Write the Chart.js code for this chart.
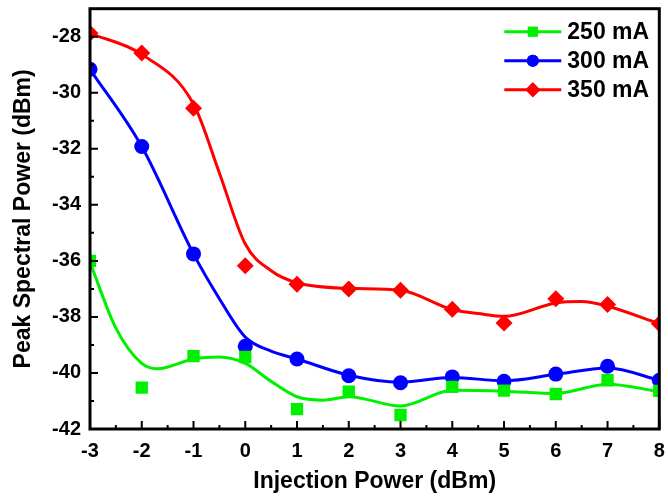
<!DOCTYPE html>
<html>
<head>
<meta charset="utf-8">
<script src="https://cdn.jsdelivr.net/npm/chart.js@4/dist/chart.umd.min.js"></script>
<style>
  html, body { margin: 0; padding: 0; background: #fff; }
  #wrap { width: 668px; height: 497px; }
</style>
</head>
<body>
<div id="wrap"><canvas id="powerChart"></canvas></div>
<script>
// injection power (dBm) and measured peak power (dBm) per bias current
const injection = [-3, -2, -1, 0, 1, 2, 3, 4, 5, 6, 7, 8];
const peak250 = [-36.0, -40.52, -39.4, -39.43, -41.29, -40.67, -41.5, -40.5, -40.63, -40.75, -40.26, -40.64];
const peak300 = [-29.16, -31.92, -35.75, -39.05, -39.5, -40.1, -40.35, -40.14, -40.3, -40.04, -39.76, -40.26];
const peak350 = [-27.88, -28.58, -30.55, -36.17, -36.83, -37.0, -37.05, -37.73, -38.22, -37.35, -37.56, -38.24];

// smoothed fit curves
const fitX250 = [-3, -2.5, -2, -1.7, -1, -0.5, 0, 0.5, 1, 1.5, 2, 3, 4, 5, 6, 7, 8];
const fit250 = [-36.05, -38.4, -39.66, -39.85, -39.5, -39.43, -39.66, -40.3, -40.85, -40.97, -40.85, -41.18, -40.62, -40.65, -40.73, -40.4, -40.67];
const fitX300 = [-3, -2, -1, -0.5, 0, 0.5, 1, 2, 3, 4, 5, 6, 7, 8];
const fit300 = [-29.16, -31.92, -35.75, -37.35, -38.72, -39.22, -39.5, -40.08, -40.33, -40.16, -40.28, -40.05, -39.82, -40.26];
const fitX350 = [-3, -2, -1, -0.5, 0, 0.5, 1, 2, 3, 4, 4.5, 5, 6, 6.5, 7, 8];
const fit350 = [-27.88, -28.63, -30.4, -32.86, -35.4, -36.35, -36.78, -36.98, -37.05, -37.74, -37.88, -37.98, -37.5, -37.45, -37.62, -38.24];

const seriesNames = ['250 mA', '300 mA', '350 mA'];
const xTicks = [-3, -2, -1, 0, 1, 2, 3, 4, 5, 6, 7, 8];
const xMinor = [-2.5, -1.5, -0.5, 0.5, 1.5, 2.5, 3.5, 4.5, 5.5, 6.5, 7.5];
const yTicks = [-42, -40, -38, -36, -34, -32, -30, -28];
const yMinor = [-41, -39, -37, -35, -33, -31, -29];

const FONT = "'Liberation Sans', Arial, sans-serif";
const colors = ['#00f000', '#0000ff', '#ff0000'];
const styles = [
  { pointStyle: 'rect', radius: 8.7, legendRadius: 7 },
  { pointStyle: 'circle', radius: 7.5, legendRadius: 6 },
  { pointStyle: 'rectRot', radius: 8.5, legendRadius: 7.5 }
];

const pairs = (xs, ys) => xs.map((x, i) => ({ x: x, y: ys[i] }));
const peaks = [peak250, peak300, peak350];
const fits = [[fitX250, fit250], [fitX300, fit300], [fitX350, fit350]];

const datasets = [];
seriesNames.forEach((name, i) => {
  datasets.push({
    label: name,
    data: pairs(injection, peaks[i]),
    showLine: false,
    pointStyle: styles[i].pointStyle,
    pointRadius: styles[i].radius,
    pointBackgroundColor: colors[i],
    pointBorderWidth: 0,
    pointBorderColor: colors[i],
    order: 0
  });
  datasets.push({
    label: name + ' fit',
    data: pairs(fits[i][0], fits[i][1]),
    showLine: true,
    borderColor: colors[i],
    borderWidth: 3,
    pointRadius: 0,
    cubicInterpolationMode: 'monotone',
    order: 1
  });
});

// frame, inward ticks and the legend
const framePlugin = {
  id: 'frame',
  afterDatasetsDraw(chart) {
    const ctx = chart.ctx;
    const a = chart.chartArea;
    const xs = chart.scales.x, ys = chart.scales.y;
    ctx.save();
    ctx.strokeStyle = '#000';
    ctx.lineWidth = 2;
    ctx.beginPath();
    xTicks.forEach(v => { const p = xs.getPixelForValue(v); ctx.moveTo(p, a.bottom); ctx.lineTo(p, a.bottom - 8); });
    xMinor.forEach(v => { const p = xs.getPixelForValue(v); ctx.moveTo(p, a.bottom); ctx.lineTo(p, a.bottom - 4); });
    yTicks.forEach(v => { const p = ys.getPixelForValue(v); ctx.moveTo(a.left, p); ctx.lineTo(a.left + 8, p); });
    yMinor.forEach(v => { const p = ys.getPixelForValue(v); ctx.moveTo(a.left, p); ctx.lineTo(a.left + 4, p); });
    ctx.stroke();
    ctx.lineWidth = 3;
    ctx.strokeRect(a.left, a.top, a.right - a.left, a.bottom - a.top);

    // legend: line with marker, then label
    ctx.font = 'bold 23px ' + FONT;
    ctx.textBaseline = 'middle';
    ctx.textAlign = 'left';
    seriesNames.forEach((name, i) => {
      const y = a.top + 23 + i * 29;
      const x0 = a.right - 155;
      ctx.strokeStyle = colors[i];
      ctx.lineWidth = 3;
      ctx.beginPath();
      ctx.moveTo(x0, y);
      ctx.lineTo(x0 + 57, y);
      ctx.stroke();
      ctx.fillStyle = colors[i];
      Chart.helpers.drawPoint(ctx, {
        pointStyle: styles[i].pointStyle,
        radius: styles[i].legendRadius,
        borderWidth: 0,
        rotation: 0
      }, x0 + 28.5, y);
      ctx.fill();
      ctx.fillStyle = '#000';
      ctx.fillText(name, x0 + 63, y + 1);
    });
    ctx.restore();
  }
};

new Chart(document.getElementById('powerChart'), {
  type: 'scatter',
  data: { datasets: datasets },
  options: {
    responsive: true,
    maintainAspectRatio: false,
    animation: false,
    layout: { padding: { top: 8, right: 5, left: 0, bottom: 0 } },
    plugins: {
      legend: { display: false },
      tooltip: { enabled: false }
    },
    scales: {
      x: {
        type: 'linear',
        min: -3,
        max: 8,
        afterBuildTicks: s => { s.ticks = xTicks.map(v => ({ value: v })); },
        afterFit: s => { s.height = 68; s.paddingLeft = 0; s.paddingRight = 0; },
        grid: { display: false, drawTicks: false },
        border: { display: false },
        ticks: {
          padding: 10,
          color: '#000',
          font: { family: FONT, size: 20, weight: 'bold' }
        },
        title: {
          display: true,
          text: 'Injection Power (dBm)',
          color: '#000',
          padding: { top: 0, bottom: 2 },
          font: { family: FONT, size: 23, weight: 'bold' }
        }
      },
      y: {
        type: 'linear',
        min: -42,
        max: -27,
        afterBuildTicks: s => { s.ticks = yTicks.map(v => ({ value: v })); },
        afterFit: s => { s.width = 90; s.paddingTop = 0; s.paddingBottom = 0; },
        grid: { display: false, drawTicks: false },
        border: { display: false },
        ticks: {
          padding: 9,
          color: '#000',
          font: { family: FONT, size: 20, weight: 'bold' }
        },
        title: {
          display: true,
          text: 'Peak Spectral Power (dBm)',
          color: '#000',
          padding: { top: 10, bottom: 0 },
          font: { family: FONT, size: 23, weight: 'bold' }
        }
      }
    }
  },
  plugins: [framePlugin]
});
</script>
</body>
</html>
